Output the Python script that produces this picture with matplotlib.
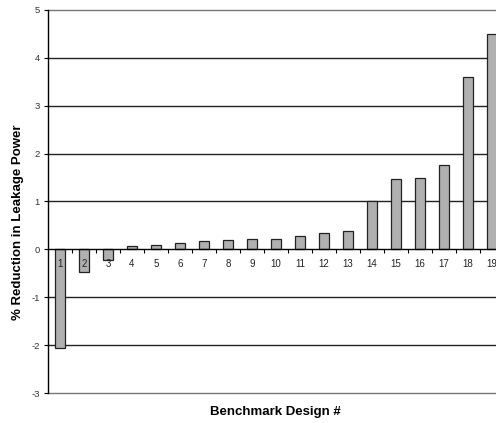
import matplotlib
matplotlib.use('Agg')
import matplotlib.pyplot as plt
import numpy as np

designs = list(range(1, 20))
reduction = [-2.07, -0.47, -0.22, 0.08, 0.10, 0.13, 0.18, 0.19, 0.21, 0.22,
             0.27, 0.35, 0.38, 1.02, 1.48, 1.50, 1.77, 3.59, 4.49]
yticks = [-3, -2, -1, 0, 1, 2, 3, 4, 5]

plt.rcParams['font.family'] = ['Liberation Sans', 'DejaVu Sans']

fig = plt.figure(figsize=(4.96, 4.23), dpi=100)
# the right part of the plot is cut off in the original, so the axes run past the figure edge
ax = fig.add_axes([0.0968, 0.0709, 0.919, 0.9055])
ax.set_axisbelow(False)  # tick labels 1 and 2 sit on top of the bars

for y in yticks:
    if y == 0:
        continue
    col = '#777777' if y in (-3, 5) else '#222222'
    ax.axhline(y, color=col, linewidth=1.0, zorder=1, clip_on=False)

ax.bar(designs, reduction, width=0.42, color='#b0b0b0', edgecolor='#222222',
       linewidth=0.9, zorder=2)

ax.set_xlim(0.5, 19.5)
ax.set_ylim(-3, 5)
ax.set_yticks(yticks)
ax.set_yticklabels([str(v) for v in yticks], fontsize=6.8, color='#333333')
ax.tick_params(axis='y', length=3, width=0.8, pad=3)

ax.spines['top'].set_visible(False)
ax.spines['right'].set_visible(False)
ax.spines['bottom'].set_position(('data', 0))
ax.spines['left'].set_linewidth(1.0)
ax.spines['bottom'].set_linewidth(1.0)

ax.set_xticks(designs)
ax.set_xticklabels([str(d) for d in designs], fontsize=7, color='#222222')
ax.tick_params(axis='x', which='major', length=0, pad=7)
ax.set_xticks(np.arange(1.5, 19.5, 1.0), minor=True)
ax.tick_params(axis='x', which='minor', length=3, width=0.8, direction='out')

fig.text(0.555, 0.025, 'Benchmark Design #', ha='center', va='center',
         fontsize=9.5, fontweight='bold')
fig.text(0.036, 0.475, '% Reduction in Leakage Power', ha='center', va='center',
         rotation=90, fontsize=9.5, fontweight='bold')

fig.savefig('out.png', dpi=100)
